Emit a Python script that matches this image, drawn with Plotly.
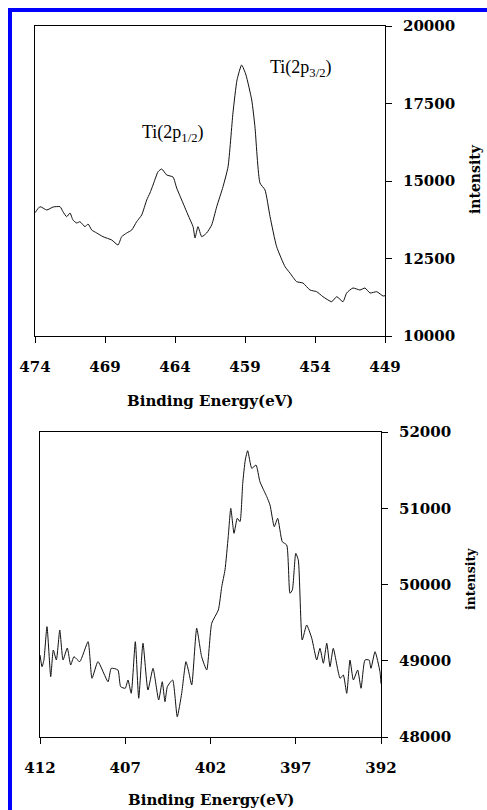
import plotly.graph_objects as go

# ---- Top panel: Ti 2p region ----
ti_energy = [474.00, 473.64, 473.16, 472.71, 472.21, 472.00, 471.74, 471.50, 471.29, 471.02,
             470.79, 470.43, 470.21, 469.95, 469.59, 469.14, 468.52, 468.07, 467.81, 467.45,
             467.09, 466.74, 466.38, 466.02, 465.79, 465.57, 465.21, 464.95, 464.59, 464.14,
             463.88, 463.43, 463.07, 462.71, 462.57, 462.36, 462.09, 461.74, 461.38, 461.02,
             460.57, 460.21, 459.86, 459.57, 459.24, 458.93, 458.52, 458.29, 457.93, 457.57,
             457.21, 456.74, 456.14, 455.79, 455.31, 454.86, 454.36, 453.88, 453.43, 452.81,
             452.45, 452.00, 451.74, 451.29, 450.79, 450.43, 450.07, 449.59, 449.14, 449.00]
ti_intensity = [13977, 14171, 14065, 14161, 14171, 14010, 13848, 13968, 13742, 13645,
                13687, 13526, 13613, 13419, 13323, 13203, 13097, 12935, 13203, 13323,
                13419, 13687, 13903, 14387, 14613, 14871, 15300, 15387, 15194, 15129,
                14774, 14290, 13903, 13526, 13161, 13526, 13203, 13323, 13581, 14171,
                14816, 15461, 17194, 18258, 18742, 18419, 17613, 16752, 14935, 14710,
                13848, 12881, 12235, 12032, 11752, 11710, 11484, 11429, 11268, 11106,
                11268, 11106, 11387, 11548, 11484, 11548, 11387, 11429, 11290, 11300]
ti_xticks = [474, 469, 464, 459, 454, 449]
ti_yticks = [10000, 12500, 15000, 17500, 20000]

# ---- Bottom panel: N 1s region ----
n_energy = [412.00, 411.88, 411.77, 411.59, 411.37, 411.22, 411.04, 410.84, 410.65, 410.40,
            410.20, 410.01, 409.67, 409.18, 408.95, 408.60, 408.01, 407.82, 407.43, 407.27,
            407.00, 406.84, 406.65, 406.41, 406.21, 405.96, 405.67, 405.37, 405.04, 404.83,
            404.67, 404.53, 404.22, 403.95, 403.69, 403.44, 403.30, 403.10, 402.81, 402.52,
            402.22, 401.93, 401.54, 401.34, 401.15, 400.96, 400.81, 400.62, 400.43, 400.27,
            400.11, 399.96, 399.82, 399.58, 399.33, 399.10, 398.70, 398.51, 398.26, 398.06,
            397.79, 397.53, 397.34, 397.20, 397.00, 396.85, 396.62, 396.36, 396.06, 395.77,
            395.58, 395.38, 395.18, 394.99, 394.80, 394.40, 394.21, 394.01, 393.82, 393.62,
            393.37, 393.17, 392.94, 392.70, 392.59, 392.35, 392.06, 392.00]
n_intensity = [49075, 48922, 49010, 49447, 48791, 49141, 49010, 49403, 49010, 49167,
               48944, 49053, 48988, 49250, 48770, 48988, 48725, 48901, 48879, 48660,
               48639, 48748, 48573, 49250, 48508, 49229, 48616, 48901, 48485, 48725,
               48463, 48660, 48748, 48266, 48573, 48988, 48879, 48682, 49426, 49053,
               48879, 49491, 49666, 49971, 50190, 50627, 50999, 50671, 50868, 50824,
               51327, 51633, 51755, 51524, 51567, 51348, 51152, 51043, 50758, 50868,
               50561, 50518, 49885, 49928, 50409, 50321, 49272, 49469, 49294, 49010,
               49163, 48967, 49229, 48922, 49163, 48770, 48813, 48573, 49010, 48748,
               48879, 48639, 49010, 49010, 48901, 49119, 48856, 48700]
n_xticks = [412, 407, 402, 397, 392]
n_yticks = [48000, 49000, 50000, 51000, 52000]

W, H = 487, 810
def px(x):
    return x / W
def py(y):
    return 1 - y / H

tick_font = dict(family="DejaVu Serif", size=15, color="black", weight="bold")

fig = go.Figure()
fig.add_trace(go.Scatter(x=ti_energy, y=ti_intensity, mode="lines",
                         line=dict(color="#111111", width=1, shape="spline", smoothing=0.5),
                         xaxis="x", yaxis="y", showlegend=False, hoverinfo="skip"))
fig.add_trace(go.Scatter(x=n_energy, y=n_intensity, mode="lines",
                         line=dict(color="#111111", width=1, shape="spline", smoothing=0.5),
                         xaxis="x2", yaxis="y2", showlegend=False, hoverinfo="skip"))

common_x = dict(showgrid=False, zeroline=False, showline=True, linecolor="black", linewidth=1,
                mirror=True, ticks="outside", ticklen=6, tickcolor="black", tickwidth=1,
                tickfont=tick_font, automargin=False, ticklabelstandoff=11)
common_y = dict(showgrid=False, zeroline=False, showline=True, linecolor="black", linewidth=1,
                mirror=True, ticks="outside", ticklen=6, tickcolor="black", tickwidth=1,
                tickfont=tick_font, automargin=False, side="right", ticklabelstandoff=8)

fig.update_layout(
    width=W, height=H,
    margin=dict(l=0, r=0, t=0, b=0),
    paper_bgcolor="white", plot_bgcolor="white",
    xaxis=dict(common_x, domain=[px(35), px(385)], range=[474, 449],
               tickvals=ti_xticks, ticktext=[str(v) for v in ti_xticks], anchor="y"),
    yaxis=dict(common_y, domain=[py(336), py(26)], range=[10000, 20000],
               tickvals=ti_yticks, ticktext=[str(v) for v in ti_yticks], anchor="x"),
    xaxis2=dict(common_x, domain=[px(40), px(381)], range=[412, 392],
                tickvals=n_xticks, ticktext=[str(v) for v in n_xticks], anchor="y2"),
    yaxis2=dict(common_y, domain=[py(737), py(432)], range=[48000, 52000],
                tickvals=n_yticks, ticktext=[str(v) for v in n_yticks], anchor="x2"),
    shapes=[dict(type="rect", xref="paper", yref="paper",
                 x0=px(10), x1=1.05, y0=-0.05, y1=py(10),
                 line=dict(color="#0000FF", width=4), fillcolor="rgba(0,0,0,0)")],
)

label_font = dict(family="DejaVu Serif", size=15, color="black", weight="bold")
peak_font = dict(family="Liberation Serif", size=18, color="black")
annos = [
    dict(text="Binding Energy(eV)", x=px(209.5), y=py(401), font=label_font),
    dict(text="Binding Energy(eV)", x=px(210.5), y=py(800), font=label_font),
    dict(text="intensity", x=px(475), y=py(179), textangle=-90,
         font=dict(label_font, size=14)),
    dict(text="intensity", x=px(470), y=py(579), textangle=-90,
         font=dict(label_font, size=12.5)),
    dict(text="Ti(2p<sub>3/2</sub>)", x=px(268), y=py(69), xanchor="left", font=peak_font),
    dict(text="Ti(2p<sub>1/2</sub>)", x=px(140), y=py(133), xanchor="left", font=peak_font),
]
for a in annos:
    a.setdefault("xanchor", "center")
    fig.add_annotation(xref="paper", yref="paper", showarrow=False, yanchor="middle", **a)

fig.write_html("out.html")
